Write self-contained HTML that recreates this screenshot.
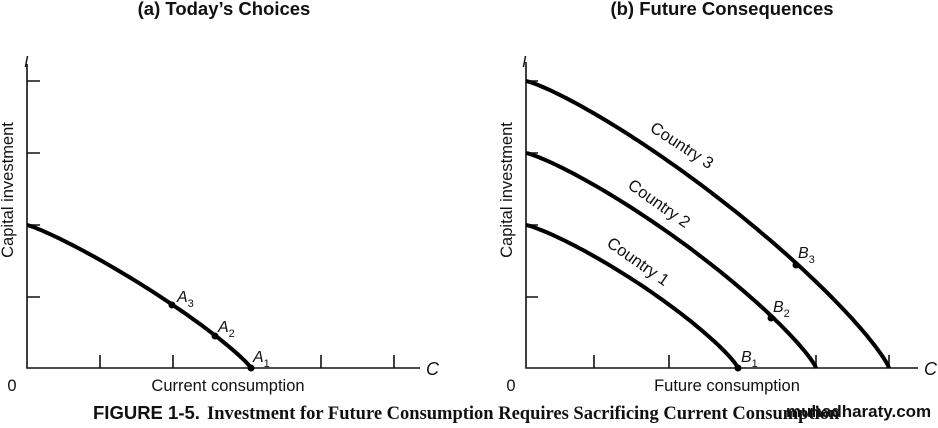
<!DOCTYPE html>
<html><head><meta charset="utf-8"><style>
html,body{margin:0;padding:0;background:#fff;}
svg{display:block;}
text{font-family:"Liberation Sans",sans-serif;fill:#111;}
</style></head><body>
<svg id="s" width="938" height="428" viewBox="0 0 938 428" xmlns="http://www.w3.org/2000/svg">
<text x="224" y="15" font-size="18.5" font-weight="bold" text-anchor="middle" fill="#1e0e14">(a) Today’s Choices</text>
<text x="722" y="15" font-size="18.5" font-weight="bold" text-anchor="middle" fill="#1e0e14">(b) Future Consequences</text>
<g stroke="#111" stroke-width="1.6" fill="none">
<path d="M27 64V368H420"/>
<path d="M27 81H40M27 153H40M27 225H40M27 297H40"/>
<path d="M100 368V355M173 368V355M321 368V355M394 368V355"/>
<path d="M526 62V368H918"/>
<path d="M526 81H538M526 153H538M526 225H538M526 297H538"/>
<path d="M594 368V355M669 368V355M816 368V355M889 368V355"/>
</g>
<g id="curves" stroke="#000" stroke-width="4" fill="none" stroke-linecap="butt"></g>
<g fill="#000">
<circle cx="172" cy="305" r="3.5"/><circle cx="215" cy="336" r="3.5"/><circle cx="251" cy="368" r="3.5"/>
<circle cx="796" cy="265" r="3.5"/><circle cx="771" cy="318" r="3.5"/><circle cx="738" cy="368" r="3.5"/>
</g>
<g font-size="16" font-style="italic">
<text x="24" y="67">I</text><text x="522" y="67">I</text>
<text x="426" y="375" font-size="18">C</text><text x="924" y="375" font-size="18">C</text>
<text x="177" y="302">A<tspan font-size="11" dy="5" font-style="normal">3</tspan></text>
<text x="218" y="332">A<tspan font-size="11" dy="5" font-style="normal">2</tspan></text>
<text x="253" y="362">A<tspan font-size="11" dy="5" font-style="normal">1</tspan></text>
<text x="798" y="258">B<tspan font-size="11" dy="5" font-style="normal">3</tspan></text>
<text x="773" y="312">B<tspan font-size="11" dy="5" font-style="normal">2</tspan></text>
<text x="741" y="362">B<tspan font-size="11" dy="5" font-style="normal">1</tspan></text>
</g>
<g font-size="16.5">
<text x="12" y="391" text-anchor="middle">0</text><text x="511" y="391" text-anchor="middle">0</text>
<text x="228" y="391" text-anchor="middle">Current consumption</text>
<text x="727" y="391" text-anchor="middle">Future consumption</text>
<text transform="translate(13,190) rotate(-90)" text-anchor="middle">Capital investment</text>
<text transform="translate(512,190) rotate(-90)" text-anchor="middle">Capital investment</text>
<text transform="translate(679,150) rotate(33)" text-anchor="middle">Country 3</text>
<text transform="translate(656,208) rotate(35)" text-anchor="middle">Country 2</text>
<text transform="translate(635,266) rotate(35)" text-anchor="middle">Country 1</text>
</g>
<text x="93" y="419" font-size="18.5" font-weight="bold" fill="#2a0f14">FIGURE 1-5.</text>
<text x="207" y="419" font-size="18.5" font-weight="bold" style="font-family:'Liberation Serif',serif" fill="#2a0f14">Investment for Future Consumption Requires Sacrificing Current Consumption</text>
<text x="786" y="417" font-size="17" font-weight="bold" fill="#222">muhadharaty.com</text>
</svg>
<script>
var g=document.getElementById('curves');
function cur(x0,y0,a,b,p){var d='';for(var i=0;i<=80;i++){var t=i/80*Math.PI/2;var c=Math.cos(t),s=Math.sin(t);var x=x0+a*Math.pow(s,2/p),y=y0-b*Math.pow(c,2/p);d+=(i?'L':'M')+x.toFixed(1)+' '+y.toFixed(1);}
var e=document.createElementNS('http://www.w3.org/2000/svg','path');e.setAttribute('d',d);g.appendChild(e);}
cur(27,368,224,143,1.15);
cur(526,368,212,143,1.2);
cur(526,368,290,215,1.2);
cur(526,368,363,287,1.2);
</script>
</body></html>
